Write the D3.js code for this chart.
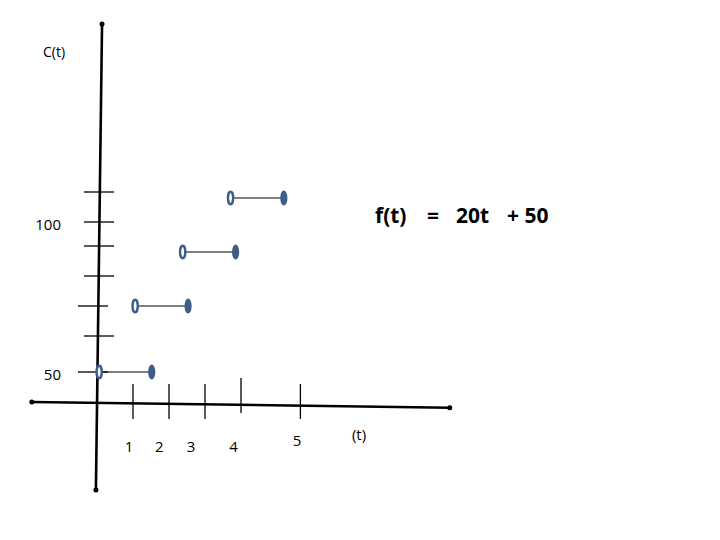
<!DOCTYPE html>
<html>
<head>
<meta charset="utf-8">
<script src="https://cdn.jsdelivr.net/npm/d3@7"></script>
<style>
  body { margin: 0; background: #fff; }
  text { font-family: "Open Sans", "Liberation Sans", sans-serif; }
</style>
</head>
<body>
<div id="chart"></div>
<script>
// step values (t = time, C = cost)
var stepStart = [0.06, 1.06, 2.38, 3.71];
var stepEnd = [1.52, 2.53, 3.85, 5.19];
var stepValue = [50, 72, 90, 108];

var yTickValues = [110, 100, 92, 82, 72, 62, 50];
var yLabels = ["100", "50"];
var yLabelValues = [97.5, 47.5];

var xTickValues = [1, 2, 3, 4, 5.65];
var xLabels = ["1", "2", "3", "4", "5"];
var xLabelPos = [0.89, 1.73, 2.61, 3.79, 5.56];

// hand drawn axis ends [t, C]
var vAxisEnds = [[0.14, 166], [-0.03, 10.7]];
var hAxisEnds = [[-1.81, 40], [9.8, 38.1]];

var width = 720, height = 540;
var markColor = "#3e5c88";

var xScale = d3.scaleLinear().domain([0, 1]).range([97, 133]);
var yScale = d3.scaleLinear().domain([50, 100]).range([372, 222]);

var svg = d3.select("#chart")
    .append("svg")
    .attr("width", width)
    .attr("height", height);

// axes
[vAxisEnds, hAxisEnds].forEach(function (ends) {
    svg.append("line")
        .attr("x1", xScale(ends[0][0]))
        .attr("y1", yScale(ends[0][1]))
        .attr("x2", xScale(ends[1][0]))
        .attr("y2", yScale(ends[1][1]))
        .attr("stroke", "#000")
        .attr("stroke-width", 2.6);
    ends.forEach(function (p) {
        svg.append("circle")
            .attr("cx", xScale(p[0]))
            .attr("cy", yScale(p[1]))
            .attr("r", 2.5)
            .attr("fill", "#000");
    });
});

// y ticks (two are drawn a bit further left)
var yTickShift = [0, 0, 0, 0, -6, 0, -6];
svg.selectAll(".ytick")
    .data(yTickValues)
    .enter().append("line")
    .attr("class", "ytick")
    .attr("x1", function (d, i) { return 84 + yTickShift[i]; })
    .attr("x2", function (d, i) { return 114 + yTickShift[i]; })
    .attr("y1", function (d) { return yScale(d); })
    .attr("y2", function (d) { return yScale(d); })
    .attr("stroke", "#000")
    .attr("stroke-width", 1.3);

// x ticks (the 4 tick sits a little higher)
var xTickShift = [0, 0, 0, -6, 0];
svg.selectAll(".xtick")
    .data(xTickValues)
    .enter().append("line")
    .attr("class", "xtick")
    .attr("x1", function (d) { return xScale(d); })
    .attr("x2", function (d) { return xScale(d); })
    .attr("y1", function (d, i) { return 384 + xTickShift[i]; })
    .attr("y2", function (d, i) { return 419 + xTickShift[i]; })
    .attr("stroke", "#000")
    .attr("stroke-width", 1.3);

// x labels
var xLabelBase = [451.5, 451.5, 451.5, 451.5, 446];
svg.selectAll(".xlabel")
    .data(xLabels)
    .enter().append("text")
    .attr("class", "xlabel")
    .attr("x", function (d, i) { return xScale(xLabelPos[i]); })
    .attr("y", function (d, i) { return xLabelBase[i]; })
    .attr("text-anchor", "middle")
    .attr("font-size", 15)
    .text(function (d) { return d; });

svg.append("text")
    .attr("x", 359)
    .attr("y", 440)
    .attr("text-anchor", "middle")
    .attr("font-size", 15)
    .text("(t)");

// y labels
svg.selectAll(".ylabel")
    .data(yLabels)
    .enter().append("text")
    .attr("class", "ylabel")
    .attr("x", 61)
    .attr("y", function (d, i) { return yScale(yLabelValues[i]); })
    .attr("text-anchor", "end")
    .attr("font-size", 15)
    .text(function (d) { return d; });

svg.append("text")
    .attr("x", 43)
    .attr("y", 57)
    .attr("font-size", 14)
    .text("C(t)");

// steps
var steps = stepValue.map(function (v, i) {
    return {start: stepStart[i], end: stepEnd[i], value: v};
});

var step = svg.selectAll(".step")
    .data(steps)
    .enter().append("g")
    .attr("class", "step");

step.append("line")
    .attr("x1", function (d) { return xScale(d.start); })
    .attr("x2", function (d) { return xScale(d.end); })
    .attr("y1", function (d) { return yScale(d.value); })
    .attr("y2", function (d) { return yScale(d.value); })
    .attr("stroke", "#000")
    .attr("stroke-width", 1.1);

step.append("ellipse")
    .attr("cx", function (d) { return xScale(d.start); })
    .attr("cy", function (d) { return yScale(d.value); })
    .attr("rx", 2.6)
    .attr("ry", 6.2)
    .attr("fill", "#fff")
    .attr("stroke", markColor)
    .attr("stroke-width", 2.4);

step.append("ellipse")
    .attr("cx", function (d) { return xScale(d.end); })
    .attr("cy", function (d) { return yScale(d.value); })
    .attr("rx", 3.6)
    .attr("ry", 7.5)
    .attr("fill", markColor);

// formula
var formula = [["f(t)", 375], ["=", 427], ["20t", 456], ["+ 50", 507]];
svg.selectAll(".formula")
    .data(formula)
    .enter().append("text")
    .attr("class", "formula")
    .attr("x", function (d) { return d[1]; })
    .attr("y", 223)
    .attr("font-size", 21)
    .attr("font-weight", "bold")
    .text(function (d) { return d[0]; });
</script>
</body>
</html>
